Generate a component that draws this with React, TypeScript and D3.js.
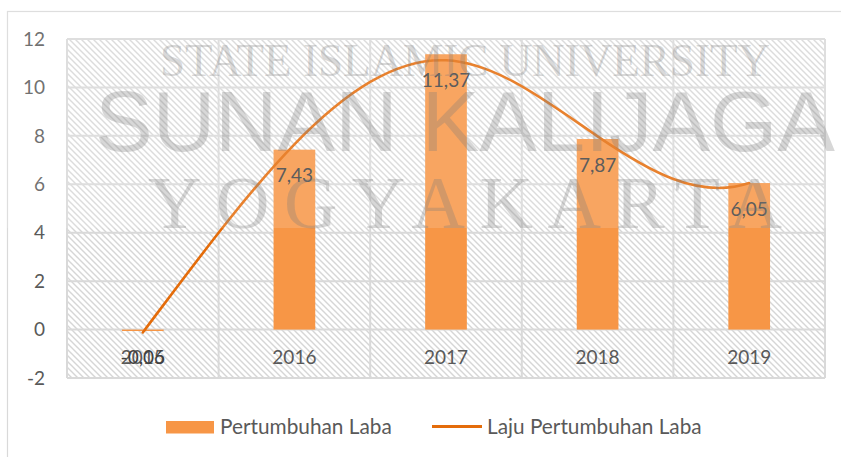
import React from 'react';
import * as d3 from 'd3';

// ---------- data ----------
const categories = ['2015', '2016', '2017', '2018', '2019'];
const barValues = [-0.06, 7.43, 11.37, 7.87, 6.05];
const lineValues = [-0.12, 7.65, 11.12, 7.98, 6.05];
const yTicks = [-2, 0, 2, 4, 6, 8, 10, 12];
const barSeriesName = 'Pertumbuhan Laba';
const lineSeriesName = 'Laju Pertumbuhan Laba';
const watermarkTop = 'STATE ISLAMIC UNIVERSITY';
const watermarkMid = 'SUNAN KALIJAGA';
const watermarkBottom = 'YOGYAKARTA';

const W = 841;
const H = 457;
const FONT = 'Lato, "Liberation Sans", sans-serif';

const idLocale = d3.formatLocale({
  decimal: ',',
  thousands: '.',
  grouping: [3],
  currency: ['', ''],
  minus: '-',
});
const fmt = idLocale.format('.2f');

// Smooth spline through points (not-a-knot cubic spline), as a d3 curve factory
function curveSpline(context: any) {
  let xs: number[] = [];
  let ys: number[] = [];
  return {
    areaStart() {},
    areaEnd() {},
    lineStart() {
      xs = [];
      ys = [];
    },
    point(x: number, y: number) {
      xs.push(+x);
      ys.push(+y);
    },
    lineEnd() {
      const n = xs.length;
      if (n === 0) return;
      context.moveTo(xs[0], ys[0]);
      if (n < 4) {
        for (let i = 1; i < n; i++) context.lineTo(xs[i], ys[i]);
        return;
      }
      const h: number[] = [];
      for (let i = 0; i < n - 1; i++) h.push(xs[i + 1] - xs[i]);
      const A: number[][] = Array.from({ length: n }, () => new Array(n).fill(0));
      const b: number[] = new Array(n).fill(0);
      A[0][0] = h[1];
      A[0][1] = -(h[0] + h[1]);
      A[0][2] = h[0];
      for (let i = 1; i < n - 1; i++) {
        A[i][i - 1] = h[i - 1];
        A[i][i] = 2 * (h[i - 1] + h[i]);
        A[i][i + 1] = h[i];
        b[i] = 6 * ((ys[i + 1] - ys[i]) / h[i] - (ys[i] - ys[i - 1]) / h[i - 1]);
      }
      A[n - 1][n - 3] = h[n - 2];
      A[n - 1][n - 2] = -(h[n - 3] + h[n - 2]);
      A[n - 1][n - 1] = h[n - 3];
      for (let c = 0; c < n; c++) {
        let p = c;
        for (let r = c + 1; r < n; r++) if (Math.abs(A[r][c]) > Math.abs(A[p][c])) p = r;
        [A[c], A[p]] = [A[p], A[c]];
        [b[c], b[p]] = [b[p], b[c]];
        for (let r = c + 1; r < n; r++) {
          const f = A[r][c] / A[c][c];
          for (let k = c; k < n; k++) A[r][k] -= f * A[c][k];
          b[r] -= f * b[c];
        }
      }
      const M = new Array(n).fill(0);
      for (let r = n - 1; r >= 0; r--) {
        let s = b[r];
        for (let k = r + 1; k < n; k++) s -= A[r][k] * M[k];
        M[r] = s / A[r][r];
      }
      for (let i = 0; i < n - 1; i++) {
        const hi = h[i];
        const slope = (ys[i + 1] - ys[i]) / hi;
        const d0 = slope - (hi * (2 * M[i] + M[i + 1])) / 6;
        const d1 = slope + (hi * (M[i] + 2 * M[i + 1])) / 6;
        context.bezierCurveTo(
          xs[i] + hi / 3,
          ys[i] + (hi / 3) * d0,
          xs[i + 1] - hi / 3,
          ys[i + 1] - (hi / 3) * d1,
          xs[i + 1],
          ys[i + 1]
        );
      }
    },
  };
}

export default function App() {
  const plot = { left: 67, right: 825, top: 39, bottom: 378 };
  const x = d3.scaleBand<string>().domain(categories).range([plot.left, plot.right]).padding(0);
  const y = d3.scaleLinear().domain([-2, 12]).range([plot.bottom, plot.top]);
  const bw = x.bandwidth();
  const barW = bw * 0.275;
  const cx = (c: string) => (x(c) as number) + bw / 2;

  const linePath = d3
    .line<number>()
    .x((_, i) => cx(categories[i]))
    .y((d) => y(d))
    .curve(curveSpline as any)(lineValues) as string;

  const grid = '#d9d9d9';
  const textColor = '#595959';
  const barColor = '#f79646';
  const lineColor = '#e46c0a';

  return (
    <svg
      width={W}
      height={H}
      style={{ position: 'absolute', left: 0, top: 0, background: '#fff' }}
      fontFamily={FONT}
    >
      <defs>
        <pattern id="hatch" width="6" height="6" patternUnits="userSpaceOnUse">
          <rect width="6" height="6" fill="#ffffff" />
          <path d="M-1,-1 L7,7 M-1,5 L1,7 M5,-1 L7,1" stroke="#d6d6d6" strokeWidth="1.4" />
        </pattern>
      </defs>

      {/* chart border */}
      <rect x={7.5} y={11.5} width={W + 10} height={H + 10} fill="#fff" stroke={grid} strokeWidth={1.2} />

      {/* plot area */}
      <rect
        x={plot.left}
        y={plot.top}
        width={plot.right - plot.left}
        height={plot.bottom - plot.top}
        fill="url(#hatch)"
      />
      {yTicks.map((t) => (
        <line key={'h' + t} x1={plot.left} x2={plot.right} y1={y(t)} y2={y(t)} stroke={grid} strokeWidth={2} />
      ))}
      {[...categories.map((c) => x(c) as number), plot.right].map((v, i) => (
        <line key={'v' + i} x1={v} x2={v} y1={plot.top} y2={plot.bottom} stroke={grid} strokeWidth={2} />
      ))}

      {/* bars */}
      {categories.map((c, i) => {
        const v = barValues[i];
        const y0 = y(0);
        const y1 = y(v);
        return (
          <rect
            key={'b' + c}
            x={cx(c) - barW / 2}
            y={Math.min(y0, y1)}
            width={barW}
            height={Math.abs(y1 - y0)}
            fill={barColor}
          />
        );
      })}

      {/* line */}
      <path d={linePath} fill="none" stroke={lineColor} strokeWidth={2.6} strokeLinecap="round" />

      {/* x labels */}
      {categories.map((c) => (
        <text key={'x' + c} x={cx(c)} y={357} dy="0.35em" textAnchor="middle" fontSize={19} fill={textColor}>
          {c}
        </text>
      ))}

      {/* data labels */}
      {categories.map((c, i) => (
        <text
          key={'l' + c}
          x={cx(c)}
          y={y(barValues[i]) + 26}
          dy="0.35em"
          textAnchor="middle"
          fontSize={19}
          fill="#404040"
        >
          {fmt(barValues[i])}
        </text>
      ))}

      {/* y labels */}
      {yTicks.map((t) => (
        <text key={'y' + t} x={45} y={y(t)} dy="0.35em" textAnchor="end" fontSize={19} fill={textColor}>
          {t}
        </text>
      ))}

      {/* legend */}
      <rect x={166} y={421} width={48} height={12.5} fill={barColor} />
      <text x={220} y={427} dy="0.35em" fontSize={20.8} fill={textColor}>
        {barSeriesName}
      </text>
      <line x1={432} x2={482} y1={426.5} y2={426.5} stroke={lineColor} strokeWidth={3} />
      <text x={487} y={427} dy="0.35em" fontSize={20.8} fill={textColor}>
        {lineSeriesName}
      </text>

      {/* watermark overlay */}
      <rect x={0} y={0} width={W} height={228} fill="#ffffff" opacity={0.15} />
      <g fill="#7a7a7a" fillOpacity={0.3}>
        <text
          x={160}
          y={76}
          fontFamily='"Liberation Serif", serif'
          fontSize={46}
          textLength={610}
          lengthAdjust="spacingAndGlyphs"
        >
          {watermarkTop}
        </text>
        <text
          x={95}
          y={151}
          fontFamily='"Liberation Sans", sans-serif'
          fontSize={86}
          textLength={740}
          lengthAdjust="spacingAndGlyphs"
        >
          {watermarkMid}
        </text>
        <text
          x={148}
          y={228}
          fontFamily='"Liberation Serif", serif'
          fontSize={74}
          textLength={634}
          lengthAdjust="spacing"
        >
          {watermarkBottom}
        </text>
      </g>
    </svg>
  );
}
